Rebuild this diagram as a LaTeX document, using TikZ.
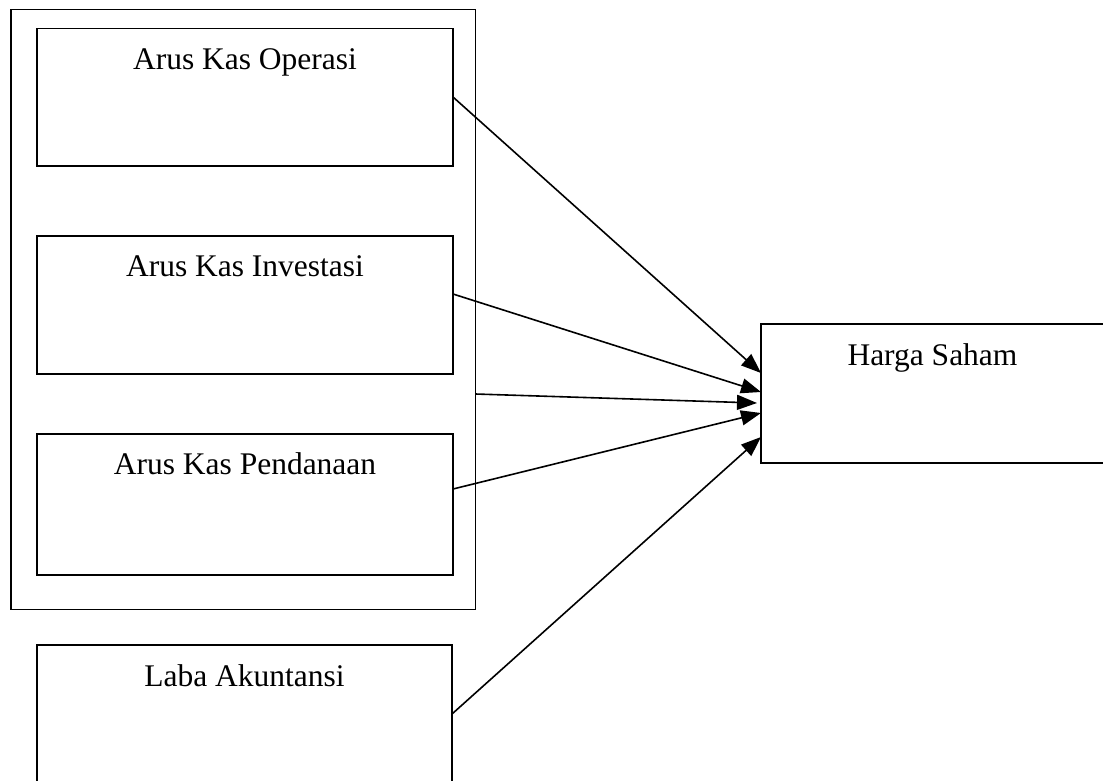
\documentclass[tikz,border=0pt]{standalone}
\usepackage{fontspec}
\setmainfont{Liberation Serif}
\usetikzlibrary{arrows.meta}
\begin{document}
\begin{tikzpicture}[x=1pt,y=-1pt,
  box/.style={draw,line width=1.7pt,inner sep=0pt,outer sep=0pt,rectangle},
  lbl/.style={anchor=base,inner sep=0pt,font=\fontsize{31.5}{37}\selectfont},
  arr/.style={line width=1.6pt,-{Triangle[length=20pt,width=15pt]}}]
\useasboundingbox (0,0) rectangle (1103,780);
\clip (0,0) rectangle (1103,780);
\node[box,minimum width=464.5pt,minimum height=600pt] (outer) at (243.25,309.5) {};
\node[box,minimum width=416pt,minimum height=137.5pt] (op) at (245,97.25) {};
\node[box,minimum width=416pt,minimum height=138pt] (inv) at (245,305) {};
\node[box,minimum width=416pt,minimum height=141pt] (pd) at (245,504.5) {};
\node[box,minimum width=415pt,minimum height=140pt] (lb) at (244.5,715) {};
\node[box,minimum width=343pt,minimum height=139pt] (hs) at (932.5,393.5) {};
\node[lbl] (top) at ([yshift=-40.5pt]op.north) {Arus Kas Operasi};
\node[lbl] (tinv) at ([yshift=-40.5pt]inv.north) {Arus Kas Investasi};
\node[lbl] (tpd) at ([yshift=-40.5pt]pd.north) {Arus Kas Pendanaan};
\node[lbl] (tlb) at ([yshift=-41pt]lb.north) {Laba Akuntansi};
\node[lbl] (ths) at ([yshift=-41pt]hs.north) {Harga Saham};
\draw[arr] (op.east |- 0,97) -- (hs.west |- 0,373);
\draw[arr] (inv.east |- 0,294) -- (hs.west |- 0,392);
\draw[arr] (outer.east |- 0,394) -- ([xshift=-4pt]hs.west |- 0,403);
\draw[arr] (pd.east |- 0,489) -- (hs.west |- 0,413);
\draw[arr] (lb.east |- 0,714) -- (hs.west |- 0,437);
\end{tikzpicture}
\end{document}
